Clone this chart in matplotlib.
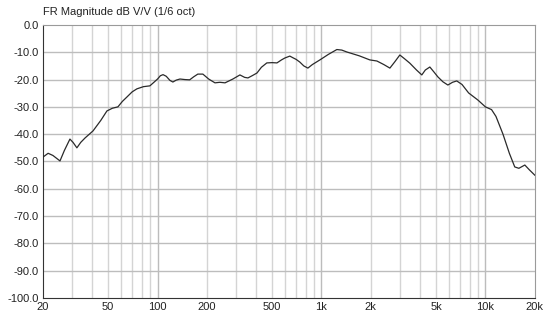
import matplotlib
matplotlib.use("Agg")
import matplotlib.pyplot as plt
from matplotlib.ticker import FixedLocator

# Respuesta en frecuencia (1/6 oct)
frecuencias = [20, 21.5, 23, 25.4, 27, 29.2, 30.5, 32.2, 34, 36.1, 40.4, 45, 49.1,
               53, 57.3, 61, 65, 70, 74.8, 82, 89.8, 95, 100, 104, 108, 113, 119,
               124, 130, 137, 147, 157, 166, 176, 189, 205, 224, 240, 258, 288,
               318, 340, 356, 380, 404, 430, 464, 500, 535, 570, 598, 641, 669,
               700, 738, 780, 826, 880, 978, 1100, 1241, 1330, 1428, 1700, 1972,
               2178, 2400, 2614, 2800, 3006, 3200, 3460, 3800, 4093, 4300, 4582,
               4850, 5126, 5500, 5902, 6300, 6686, 7200, 7900, 9000, 10000, 10900,
               11600, 12800, 14000, 15100, 16000, 17400, 18500, 20000]
magnitud_db = [-48.4, -47.0, -47.8, -49.8, -46.0, -41.8, -43.0, -45.0, -43.0, -41.4,
               -38.8, -35.0, -31.5, -30.5, -30.0, -28.0, -26.4, -24.5, -23.4,
               -22.6, -22.3, -21.0, -19.8, -18.6, -18.2, -18.8, -20.3, -20.9,
               -20.2, -19.8, -20.0, -20.1, -19.0, -18.0, -18.0, -19.8, -21.2,
               -21.0, -21.2, -19.8, -18.3, -19.2, -19.4, -18.5, -17.6, -15.5,
               -13.9, -13.8, -13.9, -12.8, -12.1, -11.4, -12.0, -12.6, -13.6,
               -15.0, -15.8, -14.5, -12.8, -10.8, -9.0, -9.2, -9.9, -11.3, -12.8,
               -13.2, -14.5, -15.8, -13.5, -11.0, -12.3, -14.0, -16.5, -18.3,
               -16.5, -15.4, -17.2, -19.0, -20.8, -22.0, -21.0, -20.5, -21.8,
               -24.9, -27.5, -30.0, -31.0, -33.5, -40.0, -47.0, -52.0, -52.5,
               -51.3, -53.0, -55.0]

ticks_x = [20, 50, 100, 200, 500, 1000, 2000, 5000, 10000, 20000]
etiquetas_x = ["20", "50", "100", "200", "500", "1k", "2k", "5k", "10k", "20k"]
ticks_y = [0, -10, -20, -30, -40, -50, -60, -70, -80, -90, -100]

plt.rcParams['font.family'] = ['Liberation Sans', 'DejaVu Sans']

fig = plt.figure(figsize=(5.44, 3.16), dpi=100)
ax = fig.add_axes([0.079, 0.057, 0.904, 0.864])

# Rejilla logarítmica
menores = [m * d for d in (10, 100, 1000) for m in range(2, 10)]
for f in menores:
    if 20 < f < 20000:
        ax.axvline(f, color='#d4d4d4', lw=1.0, zorder=1)
for f in (100, 1000, 10000):
    ax.axvline(f, color='#bcbcbc', lw=1.0, zorder=1)
for v in ticks_y[1:-1]:
    ax.axhline(v, color='#bdbdbd', lw=1.0, zorder=1)

ax.plot(frecuencias, magnitud_db, color='#2a2a2a', lw=0.9, zorder=3)

ax.set_xscale('log')
ax.set_xlim(20, 20000)
ax.set_ylim(-100, 0)
ax.set_xticks(ticks_x, etiquetas_x)
ax.xaxis.set_minor_locator(FixedLocator([]))
ax.set_yticks(ticks_y, [f"{v:.1f}" for v in ticks_y])
ax.tick_params(length=0, labelsize=8, colors='#222222', pad=3)

for lado in ('top', 'right'):
    ax.spines[lado].set_color('#9a9a9a')
for lado in ('left', 'bottom'):
    ax.spines[lado].set_color('#333333')

fig.text(0.079, 0.945, "FR Magnitude dB V/V (1/6 oct)", fontsize=8,
         color='#222222', ha='left', va='bottom')

fig.savefig("out.png", dpi=100)
